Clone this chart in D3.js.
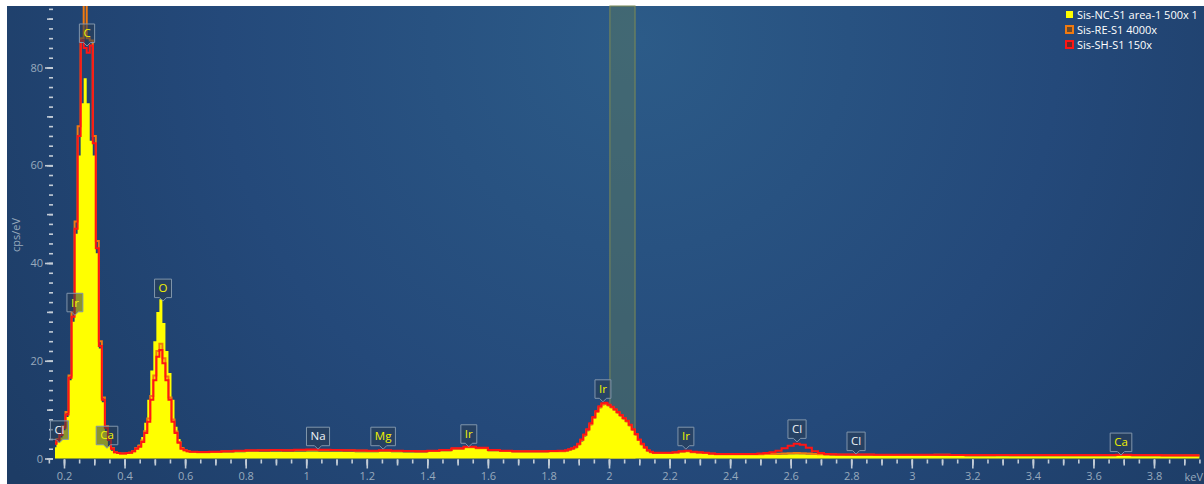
<!DOCTYPE html>
<html>
<head>
<meta charset="utf-8">
<script src="https://cdn.jsdelivr.net/npm/d3@7"></script>
<style>
  html, body { margin: 0; padding: 0; background: #ffffff; }
  svg { display: block; }
  text { font-family: "Open Sans", "Noto Sans", sans-serif; }
</style>
</head>
<body>
<svg id="chart" width="1204" height="484"></svg>
<script>
// ---------------- DATA ----------------
const energy = [
  0.17,0.18,0.19,0.20,0.21,0.22,0.23,0.24,0.25,0.26,0.27,0.28,0.29,0.30,0.31,0.32,0.33,0.34,0.35,0.36,
  0.37,0.38,0.39,0.40,0.41,0.42,0.43,0.44,0.45,0.46,0.47,0.48,0.49,0.50,0.51,0.52,0.53,0.54,0.55,0.56,
  0.57,0.58,0.59,0.60,0.61,
  0.62,0.66,0.70,0.74,0.78,0.82,0.86,0.90,0.94,0.98,1.02,1.06,1.10,1.14,1.18,1.22,1.26,1.30,1.34,1.38,
  1.42,1.46,1.50,1.54,1.58,1.62,1.66,1.70,1.74,1.78,1.82,
  1.84,1.85,1.86,1.87,1.88,1.89,1.90,1.91,1.92,1.93,1.94,1.95,1.96,1.97,1.98,1.99,2.00,2.01,2.02,2.03,
  2.04,2.05,2.06,2.07,2.08,2.09,2.10,2.11,2.12,2.13,2.14,2.15,2.16,
  2.18,2.20,2.22,2.24,2.26,2.28,2.30,2.32,2.34,2.36,2.38,2.40,2.42,2.44,2.46,2.48,2.50,2.52,2.54,2.56,
  2.58,2.60,2.62,2.64,2.66,2.68,2.70,2.72,2.74,2.76,
  2.80,2.85,2.90,2.95,3.00,3.05,3.10,3.15,3.20,3.25,3.30,3.35,3.40,3.45,3.50,3.55,3.60,3.65,3.70,3.75,
  3.80,3.85,3.90,3.95
];

// Sis-NC-S1 area-1 500x 1 (yellow, filled)
const ncValues = [
  2.3,3.3,4.3,5.8,8.5,16,28,46,62,72.7,77.8,72.7,65,62,42,22.5,11.5,5.5,2.5,1.6,
  1.2,1.0,0.9,0.9,1.0,1.1,1.4,2.0,2.8,4.4,7.3,12,18,24,30,32.6,27.7,22,17.5,12,
  6.5,4.0,2.3,1.8,1.6,
  1.2,1.15,1.2,1.25,1.3,1.35,1.35,1.4,1.35,1.4,1.45,1.4,1.4,1.35,1.3,1.3,1.35,1.3,1.25,1.25,
  1.35,1.5,1.85,2.15,1.95,1.5,1.35,1.3,1.3,1.3,1.35,
  1.35,1.35,1.45,1.6,1.8,2.1,2.7,3.5,4.5,5.6,6.8,8.1,9.3,10.3,10.9,11.0,10.7,10.3,9.8,9.2,
  8.6,8.0,7.4,6.6,5.7,4.7,3.6,2.7,2.0,1.45,1.15,1.0,1.0,
  1.0,1.0,1.1,1.3,1.4,1.2,1.05,0.95,0.8,0.75,0.7,0.7,0.7,0.7,0.7,0.7,0.7,0.7,0.75,0.75,
  0.8,0.85,0.85,0.85,0.8,0.75,0.7,0.65,0.6,0.6,
  0.55,0.55,0.5,0.5,0.5,0.5,0.5,0.5,0.45,0.45,0.45,0.45,0.45,0.45,0.45,0.45,0.45,0.45,0.5,0.45,
  0.45,0.45,0.45,0.45
];

// Sis-RE-S1 4000x (orange outline)
const reValues = [
  3.1,4.0,5.0,6.6,9.5,17,30,48.5,68,86,95,86,85.5,66,44.5,24,12.5,6.6,4.0,2.1,
  1.3,1.1,1.0,1.0,1.1,1.2,1.5,2.1,2.6,3.7,5.6,8.2,12.8,17,22,23.5,20.5,16.8,12.5,8,
  5.5,3.4,2.1,1.7,1.5,
  1.35,1.3,1.35,1.45,1.55,1.6,1.65,1.7,1.65,1.7,1.75,1.7,1.7,1.65,1.6,1.55,1.6,1.55,1.5,1.45,
  1.55,1.7,2.0,2.3,2.1,1.7,1.55,1.45,1.45,1.45,1.5,
  1.5,1.5,1.6,1.8,2.0,2.3,2.9,3.8,4.8,5.9,7.0,8.3,9.5,10.5,11.1,11.2,10.9,10.5,10.0,9.4,
  8.8,8.2,7.6,6.8,5.9,4.9,3.8,2.9,2.2,1.6,1.3,1.15,1.1,
  1.1,1.1,1.2,1.4,1.5,1.3,1.2,1.1,0.95,0.85,0.85,0.85,0.85,0.85,0.85,0.85,0.85,0.9,0.9,0.95,
  1.0,1.05,1.1,1.05,1.0,0.9,0.85,0.8,0.8,0.75,
  0.75,0.75,0.7,0.7,0.7,0.7,0.75,0.7,0.65,0.65,0.7,0.65,0.65,0.65,0.65,0.65,0.65,0.65,0.7,0.65,
  0.65,0.6,0.6,0.6
];

// Sis-SH-S1 150x (red outline)
const shValues = [
  3.0,3.8,4.8,6.3,9.0,16.5,29,47,66,85.5,84,83,84.5,64.5,43,23,12,6.3,3.8,2.0,
  1.3,1.1,1.0,1.0,1.1,1.2,1.5,2.0,2.4,3.4,5.2,7.5,12,16,20.8,22.2,19.5,16,12,7.5,
  5.2,3.2,2.0,1.7,1.5,
  1.4,1.35,1.4,1.5,1.6,1.7,1.7,1.75,1.7,1.8,1.85,1.8,1.75,1.7,1.65,1.6,1.7,1.6,1.55,1.5,
  1.6,1.75,2.1,2.4,2.2,1.75,1.6,1.5,1.5,1.5,1.55,
  1.6,1.6,1.7,1.9,2.1,2.4,3.0,3.9,4.9,6.0,7.2,8.5,9.7,10.7,11.3,11.4,11.0,10.6,10.1,9.5,
  8.9,8.3,7.7,6.9,6.0,5.0,3.9,3.0,2.3,1.7,1.4,1.2,1.2,
  1.2,1.2,1.3,1.5,1.6,1.4,1.3,1.2,1.0,0.9,0.9,0.9,0.9,0.9,0.9,0.9,1.0,1.1,1.3,1.6,
  2.1,2.6,3.0,2.8,2.2,1.5,1.1,0.9,0.85,0.8,
  0.8,0.8,0.75,0.75,0.75,0.75,0.75,0.7,0.7,0.7,0.7,0.7,0.7,0.7,0.7,0.7,0.7,0.7,0.75,0.7,
  0.7,0.65,0.65,0.65
];

const seriesNames = ["Sis-NC-S1 area-1 500x 1", "Sis-RE-S1 4000x", "Sis-SH-S1 150x"];

// Peak markers
const peakNames    = ["Cl", "Ir", "C", "Ca", "O", "Na", "Mg", "Ir", "Ir", "Ir", "Cl", "Cl", "Ca"];
const peakEnergies = [0.185, 0.236, 0.276, 0.342, 0.527, 1.039, 1.254, 1.537, 1.98, 2.254, 2.621, 2.816, 3.691];
const peakLevels   = [3.2, 29.3, 84.4, 2.1, 32.2, 1.9, 1.9, 2.4, 11.6, 1.9, 3.4, 0.9, 0.7];
const peakIdentified = [false, true, true, true, true, false, true, true, true, true, false, false, true];

// Region of interest (keV)
const roiRange = [2.003, 2.086];

// Axis ticks
const xMajorTicks = [0.2,0.4,0.6,0.8,1,1.2,1.4,1.6,1.8,2,2.2,2.4,2.6,2.8,3,3.2,3.4,3.6,3.8];
const yMajorTicks = [0, 20, 40, 60, 80];

// ---------------- CHART ----------------
const W = 1204, H = 484;
const svg = d3.select("#chart");
const defs = svg.append("defs");

const grad = defs.append("radialGradient").attr("id", "bg")
  .attr("gradientUnits", "userSpaceOnUse")
  .attr("cx", 640).attr("cy", 40).attr("r", 760)
  .attr("fx", 640).attr("fy", 40);
grad.append("stop").attr("offset", "0%").attr("stop-color", "#2c5b88");
grad.append("stop").attr("offset", "55%").attr("stop-color", "#24497a");
grad.append("stop").attr("offset", "100%").attr("stop-color", "#1d3c65");

const panelLeft = 7, panelTop = 6;
svg.append("rect").attr("x", panelLeft).attr("y", panelTop)
  .attr("width", W - panelLeft).attr("height", H - panelTop)
  .attr("fill", "url(#bg)");

const x = d3.scaleLinear().domain([0.2, 3.8]).range([64, 1154]);
const y = d3.scaleLinear().domain([0, 80]).range([458.5, 67.5]);

const plotLeft = 55, plotRight = W, plotTop = panelTop, plotBottom = y(0);

defs.append("clipPath").attr("id", "plotclip")
  .append("rect").attr("x", plotLeft).attr("y", plotTop)
  .attr("width", plotRight - plotLeft).attr("height", plotBottom - plotTop + 1);

// ROI band
svg.append("rect")
  .attr("x", x(roiRange[0])).attr("y", plotTop)
  .attr("width", x(roiRange[1]) - x(roiRange[0]))
  .attr("height", plotBottom - plotTop)
  .attr("fill", "#587660").attr("fill-opacity", 0.5)
  .attr("stroke", "#7d8a55").attr("stroke-width", 1);

const plot = svg.append("g").attr("clip-path", "url(#plotclip)");

const idx = d3.range(energy.length);

const area = d3.area()
  .x(i => x(energy[i]))
  .y0(y(0))
  .y1(i => y(ncValues[i]))
  .curve(d3.curveStep);

const lineRE = d3.line().x(i => x(energy[i])).y(i => y(reValues[i])).curve(d3.curveStep);
const lineSH = d3.line().x(i => x(energy[i])).y(i => y(shValues[i])).curve(d3.curveStep);

plot.append("path").attr("d", area(idx)).attr("fill", "#ffff00");
plot.append("path").attr("d", lineRE(idx)).attr("fill", "none")
  .attr("stroke", "#f07a10").attr("stroke-width", 2);
plot.append("path").attr("d", lineSH(idx)).attr("fill", "none")
  .attr("stroke", "#ff1515").attr("stroke-width", 2);

// ---------------- AXES ----------------
const tickColor = "#c3ccd6";
const labelColor = "#98aabd";

function styleAxis(g) {
  g.select(".domain").remove();
  g.selectAll(".tick line").attr("stroke", tickColor).attr("stroke-width", 1.6);
  g.selectAll(".tick text").attr("fill", labelColor).attr("font-size", 11);
}

// x axis: minor (0.05), medium (0.1), major (0.2, labelled)
const xMinor = d3.range(3, 80).map(i => i * 0.05);
const xMed = d3.range(2, 40).map(i => i * 0.1);
svg.append("g").attr("transform", `translate(0,${plotBottom + 1})`)
  .call(d3.axisBottom(x).tickValues(xMinor).tickSize(4).tickFormat(""))
  .call(styleAxis);
svg.append("g").attr("transform", `translate(0,${plotBottom + 1})`)
  .call(d3.axisBottom(x).tickValues(xMed).tickSize(6).tickFormat(""))
  .call(styleAxis);
svg.append("g").attr("transform", `translate(0,${plotBottom + 1})`)
  .call(d3.axisBottom(x).tickValues(xMajorTicks).tickSize(9).tickPadding(4).tickFormat(d3.format("~g")))
  .call(styleAxis);

svg.append("text").attr("x", W - 1).attr("y", 481)
  .attr("text-anchor", "end").attr("fill", labelColor).attr("font-size", 11)
  .text("keV");

// y axis: minor (2), medium (10), major (20, labelled)
const yAxisX = 53;
svg.append("g").attr("transform", `translate(${yAxisX},0)`)
  .call(d3.axisLeft(y).tickValues(d3.range(0, 93, 2)).tickSize(4).tickFormat(""))
  .call(styleAxis);
svg.append("g").attr("transform", `translate(${yAxisX},0)`)
  .call(d3.axisLeft(y).tickValues(d3.range(0, 93, 10)).tickSize(6).tickFormat(""))
  .call(styleAxis);
svg.append("g").attr("transform", `translate(${yAxisX},0)`)
  .call(d3.axisLeft(y).tickValues(yMajorTicks).tickSize(8).tickPadding(2))
  .call(styleAxis);

svg.append("text")
  .attr("transform", `translate(20,${235}) rotate(-90)`)
  .attr("text-anchor", "middle").attr("fill", labelColor).attr("font-size", 11)
  .text("cps/eV");

// ---------------- PEAK LABELS ----------------
const labG = svg.append("g");
peakNames.forEach((name, i) => {
  const tx = x(peakEnergies[i]);
  const ty = y(peakLevels[i]);
  const g = labG.append("g");
  const t = g.append("text").attr("font-size", 11.5).attr("text-anchor", "middle")
    .attr("fill", peakIdentified[i] ? "#f2f200" : "#eef2f6")
    .text(name);
  const tw = t.node().getComputedTextLength();
  const bw = tw + 8, bh = 18.5, ph = 3.5;
  const bb = ty - ph, bt = bb - bh;
  const l = tx - bw / 2, r = tx + bw / 2;
  const d = `M${l},${bt} H${r} V${bb} H${tx + 3.5} L${tx},${ty} L${tx - 3.5},${bb} H${l} Z`;
  g.insert("path", "text").attr("d", d)
    .attr("fill", "#2a3c52").attr("fill-opacity", 0.55)
    .attr("stroke", "#8095ab").attr("stroke-width", 1).attr("stroke-linejoin", "round");
  t.attr("x", tx).attr("y", bt + bh / 2 + 4);
});

// ---------------- LEGEND ----------------
const legend = svg.append("g");
const swatchFill = ["#ffff00", "#6a4a2a", "#6a2a2a"];
const swatchStroke = ["#ffff00", "#f07a10", "#ff1515"];
seriesNames.forEach((name, i) => {
  const yy = 15 + i * 15;
  legend.append("rect").attr("x", 1066).attr("y", yy - 4).attr("width", 7).attr("height", 7)
    .attr("fill", swatchFill[i]).attr("stroke", swatchStroke[i]).attr("stroke-width", i === 0 ? 0 : 2);
  legend.append("text").attr("x", 1077).attr("y", yy + 3.5)
    .attr("fill", "#ffffff").attr("font-size", 11).text(name);
});
</script>
</body>
</html>
